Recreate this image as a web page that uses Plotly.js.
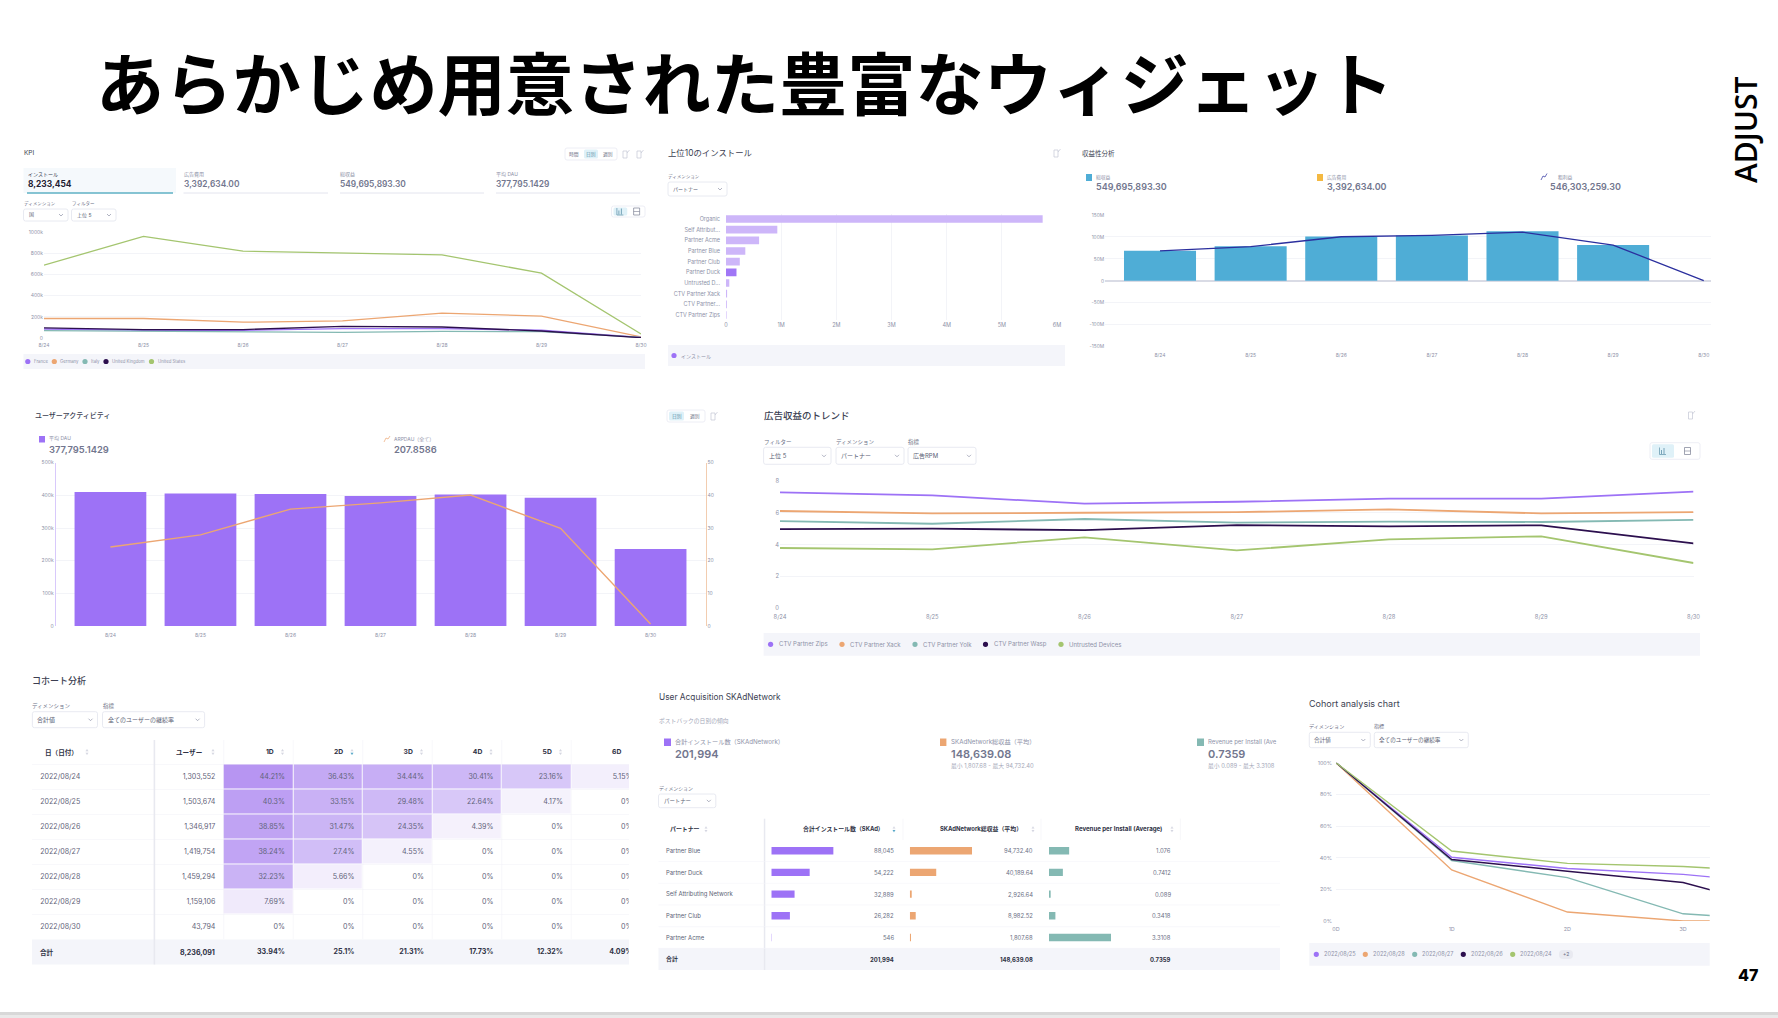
<!DOCTYPE html>
<html>
<head>
<meta charset="utf-8">
<script src="https://cdn.plot.ly/plotly-3.0.1.min.js"></script>
<style>
html, body { margin: 0; padding: 0; background: #fff; overflow: hidden; }
</style>
</head>
<body>
<div id="graphDiv" style="width:1778px;height:1018px"></div>
<script>
// shared
var days = ['8/24', '8/25', '8/26', '8/27', '8/28', '8/29', '8/30'];
var purple = '#9d72f6', orange = '#eca672', teal = '#84b9b3', dark = '#2c0f4e', green = '#a4c56f';

// KPI
var kpiNames = ['France', 'Germany', 'Italy', 'United Kingdom', 'United States'];
var kpiFrance = [85, 73, 73, 89, 89, 73, 6];
var kpiGermany = [184, 184, 149, 161, 234, 206, 10];
var kpiItaly = [70, 63, 60, 54, 63, 60, 6];
var kpiUK = [95, 79, 79, 110, 104, 66, 3];
var kpiUS = [687, 959, 820, 800, 785, 611, 38];
var kpiTicks = [0, 200, 400, 600, 800, 1000];
var kpiTickText = ['0', '200k', '400k', '600k', '800k', '1000k'];

// top 10 installs
var topPartners = ['Organic', 'Self Attribut...', 'Partner Acme', 'Partner Blue', 'Partner Club', 'Partner Duck', 'Untrusted D...', 'CTV Partner Xack', 'CTV Partner...', 'CTV Partner Zips'];
var topInstalls = [5.74, 0.93, 0.6, 0.35, 0.25, 0.19, 0.06, 0.02, 0.015, 0.01];
var topTicks = [0, 1, 2, 3, 4, 5, 6];
var topTickText = ['0', '1M', '2M', '3M', '4M', '5M', '6M'];

// revenue analysis
var revBars = [68.5, 79, 101, 103.5, 113, 81.5, 0.5];
var revLine = [68.5, 78, 100.5, 103.5, 111, 81.5, 0.3];
var revTicks = [-150, -100, -50, 0, 50, 100, 150];
var revTickText = ['-150M', '-100M', '-50M', '0', '50M', '100M', '150M'];

// user activity
var dauValues = [410, 406, 404, 398, 403, 393, 236];
var arpdauValues = [24.2, 27.9, 35.8, 37.7, 40.1, 29.9, 0.6];
var dauTicks = [0, 100, 200, 300, 400, 500];
var dauTickText = ['0', '100k', '200k', '300k', '400k', '500k'];
var arpdauTicks = [0, 10, 20, 30, 40, 50];

// ad revenue trend
var rpmNames = ['CTV Partner Zips', 'CTV Partner Xack', 'CTV Partner Yolk', 'CTV Partner Wasp', 'Untrusted Devices'];
var rpmZips = [7.27, 7.08, 6.56, 6.68, 6.87, 6.87, 7.31];
var rpmXack = [6.10, 5.95, 5.99, 6.03, 6.2, 5.95, 6.03];
var rpmYolk = [5.47, 5.3, 5.6, 5.37, 5.43, 5.41, 5.55];
var rpmWasp = [4.97, 4.99, 4.9, 5.22, 5.14, 5.2, 4.07];
var rpmUntrusted = [3.78, 3.7, 4.45, 3.63, 4.32, 4.51, 2.84];
var rpmTicks = [0, 2, 4, 6, 8];

// cohort table
var cohortDates = ['2022/08/24', '2022/08/25', '2022/08/26', '2022/08/27', '2022/08/28', '2022/08/29', '2022/08/30'];
var cohortUsers = ['1,303,552', '1,503,674', '1,346,917', '1,419,754', '1,459,294', '1,159,106', '43,794'];
var cohortDays = ['1D', '2D', '3D', '4D', '5D', '6D'];
var cohortRates = [
  [44.21, 36.43, 34.44, 30.41, 23.16, 5.15],
  [40.3, 33.15, 29.48, 22.64, 4.17, 0],
  [38.85, 31.47, 24.35, 4.39, 0, 0],
  [38.24, 27.4, 4.55, 0, 0, 0],
  [32.23, 5.66, 0, 0, 0, 0],
  [7.69, 0, 0, 0, 0, 0],
  [0, 0, 0, 0, 0, 0]
];
var cohortTotalUsers = '8,236,091';
var cohortTotals = ['33.94%', '25.1%', '21.31%', '17.73%', '12.32%', '4.09%'];

// SKAdNetwork table
var skPartners = ['Partner Blue', 'Partner Duck', 'Self Attributing Network', 'Partner Club', 'Partner Acme'];
var skInstalls = [88045, 54222, 32889, 26282, 546];
var skRevenue = [94732.40, 40189.64, 2926.64, 8982.52, 1807.68];
var skPerInstall = [1.076, 0.7412, 0.089, 0.3418, 3.3108];

// cohort chart
var retentionDays = [0, 1, 2, 3, 4];
var retentionTickText = ['0D', '1D', '2D', '3D', '4D'];
var retentionNames = ['2022/08/25', '2022/08/28', '2022/08/27', '2022/08/26', '2022/08/24'];
var retention25 = [100, 40.3, 33.15, 29.48, 22.64];
var retention28 = [100, 32.23, 5.66, 0, 0];
var retention27 = [100, 38.24, 27.4, 4.55, 0];
var retention26 = [100, 38.85, 31.47, 24.35, 4.39];
var retention24 = [100, 44.21, 36.43, 34.44, 30.41];
var retentionTicks = [0, 20, 40, 60, 80, 100];
var retentionTickLabels = ['0%', '20%', '40%', '60%', '80%', '100%'];

var W = 1778, H = 1018;
var font = "Inter, 'Noto Sans CJK JP', sans-serif";
var tickColor = '#8e92a8', gridColor = '#f3f4f8', bandColor = '#f4f5fa', valueColor = '#72768e';
var annotations = [], shapes = [], traces = [];

function domX(a, b) { return [a / W, b / W]; }
function domY(top, bottom) { return [1 - bottom / H, 1 - top / H]; }
function P(x, y) { return (x / W) + ' ' + (1 - y / H); }

function txt(x, y, text, size, color, opts) {
  opts = opts || {};
  // annotations keep about a pixel of padding on their left
  var left = !opts.anchor || opts.anchor == 'left';
  annotations.push({
    xref: 'paper', yref: 'paper', x: (left ? x - 1 : x) / W, y: 1 - y / H,
    text: text, showarrow: false, borderpad: 0,
    xanchor: opts.anchor || 'left', yanchor: 'middle',
    textangle: opts.angle || 0,
    font: {family: opts.family || font, size: size, color: color, weight: opts.weight || 400}
  });
}

function rect(x0, y0, x1, y1, fill, line) {
  shapes.push({
    type: 'rect', xref: 'paper', yref: 'paper', layer: 'below',
    x0: x0 / W, x1: x1 / W, y0: 1 - y0 / H, y1: 1 - y1 / H,
    fillcolor: fill, line: {width: line ? 0.7 : 0, color: line || fill}
  });
}

function seg(pts, color, width, layer, fill) {
  var d = 'M' + pts.map(function (p) { return P(p[0], p[1]); }).join(' L');
  if (fill) d += ' Z';
  shapes.push({
    type: 'path', xref: 'paper', yref: 'paper', layer: layer || 'above', path: d,
    fillcolor: fill || 'rgba(0,0,0,0)', line: {color: color, width: width}
  });
}

function roundBox(x0, y0, x1, y1, r, fill, line) {
  var d = 'M' + P(x0 + r, y0) + ' L' + P(x1 - r, y0) + ' Q' + P(x1, y0) + ' ' + P(x1, y0 + r) +
    ' L' + P(x1, y1 - r) + ' Q' + P(x1, y1) + ' ' + P(x1 - r, y1) +
    ' L' + P(x0 + r, y1) + ' Q' + P(x0, y1) + ' ' + P(x0, y1 - r) +
    ' L' + P(x0, y0 + r) + ' Q' + P(x0, y0) + ' ' + P(x0 + r, y0) + ' Z';
  shapes.push({
    type: 'path', xref: 'paper', yref: 'paper', layer: 'below', path: d,
    fillcolor: fill, line: {color: line || fill, width: line ? 0.8 : 0}
  });
}

function dot(x, y, r, color) {
  shapes.push({
    type: 'circle', xref: 'paper', yref: 'paper', layer: 'above',
    x0: (x - r) / W, x1: (x + r) / W, y0: 1 - (y - r) / H, y1: 1 - (y + r) / H,
    fillcolor: color, line: {width: 0}
  });
}

function dropdown(x0, x1, y0, y1, label, value, size) {
  txt(x0, y0 - 5.5, label, size - 0.5, '#6b6f85');
  roundBox(x0, y0, x1, y1, 2, '#ffffff', '#e2e4ee');
  txt(x0 + 5, (y0 + y1) / 2, value, size, '#5b5f75');
  var cx = x1 - 7, cy = (y0 + y1) / 2;
  seg([[cx - 2, cy - 1], [cx, cy + 1], [cx + 2, cy - 1]], '#8e92a8', 0.7);
}

function exportIcon(x, y) {
  seg([[x - 3, y - 3], [x + 1, y - 3], [x + 1, y + 4], [x - 3, y + 4], [x - 3, y - 3]], '#c3c6d4', 0.7);
  seg([[x + 1, y - 1], [x + 3.5, y - 4]], '#c3c6d4', 0.7);
}

function chartToggle(x0, x1, y0, y1) {
  roundBox(x0, y0, x1, y1, 2, '#ffffff', '#e8eaf2');
  var mid = (x0 + x1) / 2;
  roundBox(x0 + 2, y0 + 1.5, mid - 1, y1 - 1.5, 1.5, '#dff1f8');
  var c1 = (x0 + mid) / 2, c2 = (mid + x1) / 2, cy = (y0 + y1) / 2;
  seg([[c1 - 3, cy - 3.5], [c1 - 3, cy + 3.5], [c1 + 3.5, cy + 3.5]], '#5b8fa8', 0.7);
  seg([[c1 - 1, cy + 3], [c1 - 1, cy - 1]], '#5b8fa8', 0.8);
  seg([[c1 + 1.5, cy + 3], [c1 + 1.5, cy - 3]], '#5b8fa8', 0.8);
  seg([[c2 - 3, cy - 3.5], [c2 + 3, cy - 3.5], [c2 + 3, cy + 3.5], [c2 - 3, cy + 3.5], [c2 - 3, cy - 3.5]], '#7a7e92', 0.7);
  seg([[c2 - 3, cy], [c2 + 3, cy]], '#7a7e92', 0.6);
}

function sortIcon(x, y, active) {
  seg([[x - 1.4, y - 0.8], [x, y - 3], [x + 1.4, y - 0.8]], '#d5d7e2', 0.1, 'above', '#d5d7e2');
  var c = active ? '#58a8c8' : '#d5d7e2';
  seg([[x - 1.4, y + 0.8], [x, y + 3], [x + 1.4, y + 0.8]], c, 0.1, 'above', c);
}

function legendBand(x0, x1, y0, y1, items, colors, xs, size) {
  rect(x0, y0, x1, y1, bandColor);
  items.forEach(function (name, i) {
    dot(xs[i], (y0 + y1) / 2, 2.6, colors[i]);
    txt(xs[i] + size * 1.2 + 1, (y0 + y1) / 2, name, size, '#8e92a8');
  });
}

function axis(domain, extra) {
  var a = {
    domain: domain, showgrid: false, zeroline: false, showline: false, ticks: '',
    fixedrange: true, tickfont: {family: font, size: 5.5, color: tickColor}
  };
  for (var k in extra) a[k] = extra[k];
  return a;
}

function lineTrace(x, y, name, color, width, xa, ya) {
  return {x: x, y: y, name: name, type: 'scatter', mode: 'lines', line: {color: color, width: width}, xaxis: xa, yaxis: ya, showlegend: false, hoverinfo: 'skip'};
}

function textTrace(x, y, text, pos, size, color, xa, ya, weight) {
  return {x: x, y: y, text: text, type: 'scatter', mode: 'text', textposition: pos, textfont: {family: font, size: size, color: color, weight: weight || 400}, xaxis: xa, yaxis: ya, showlegend: false, hoverinfo: 'skip'};
}

// ---- slide furniture
txt(95.5, 80, 'あらかじめ用意された豊富なウィジェット', 68.3, '#000000', {family: "'Noto Sans CJK JP'", weight: 700});
txt(1745, 130, 'ADJUST', 30, '#000000', {family: "'Open Sans'", weight: 600, angle: -90, anchor: 'center'});
txt(1759, 975, '47', 16, '#000000', {family: "Inter", weight: 800, anchor: 'right'});
rect(0, 1012, W, 1015, '#d8d8d8');
rect(0, 1015, W, 1018, '#e9e9e9');

// ---- KPI panel
txt(23.5, 153, 'KPI', 6.5, '#3c3f52');
roundBox(565, 148, 617, 160, 2, '#ffffff', '#e8eaf2');
roundBox(584, 149.5, 598, 158.5, 1.5, '#dff1f8');
txt(574, 154, '時間', 4.8, '#6b6f85', {anchor: 'center'});
txt(591, 154, '日別', 4.8, '#5b8fa8', {anchor: 'center'});
txt(608, 154, '週別', 4.8, '#6b6f85', {anchor: 'center'});
exportIcon(626, 154);
exportIcon(640, 154);

rect(23.5, 168, 176, 193, '#f5f9fc');
seg([[27, 193], [173, 193]], '#5eb0c4', 1.3);
seg([[183.5, 193], [328, 193]], '#e3e4ee', 1);
seg([[340, 193], [484, 193]], '#e3e4ee', 1);
seg([[496, 193], [640, 193]], '#e3e4ee', 1);
txt(27.5, 174, 'インストール', 5, '#3c3f52');
txt(27.5, 184, '8,233,454', 8.4, '#1f2233', {weight: 700});
txt(183.5, 174, '広告費用', 5, '#8e92a8');
txt(183.5, 184, '3,392,634.00', 8.4, valueColor, {weight: 600});
txt(340, 174, '総収益', 5, '#8e92a8');
txt(340, 184, '549,695,893.30', 8.4, valueColor, {weight: 600});
txt(496, 174, '平均 DAU', 5, '#8e92a8');
txt(496, 184, '377,795.1429', 8.4, valueColor, {weight: 600});
dropdown(23.5, 68, 209, 221, 'ディメンション', '国', 5);
dropdown(71.5, 116, 209, 221, 'フィルター', '上位 5', 5);
chartToggle(611.5, 645, 206, 217);

var kpiX = domX(44, 641), kpiY = domY(232, 338);
var kpiSeries = [kpiFrance, kpiGermany, kpiItaly, kpiUK, kpiUS];
var kpiColors = [purple, orange, teal, dark, green];
[4, 1, 0, 2, 3].forEach(function (i) {
  traces.push(lineTrace(days, kpiSeries[i], kpiNames[i], kpiColors[i], 1.3, 'x', 'y'));
});
legendBand(23.5, 645, 354, 369, kpiNames, kpiColors, [27.8, 54.3, 85, 106, 151.5], 4.3);

// ---- top 10 installs
txt(668, 153, '上位10のインストール', 8.4, '#3c3f52');
exportIcon(1057, 153);
dropdown(668, 727, 182, 196, 'ディメンション', 'パートナー', 5);
var topColors = topPartners.map(function (p) { return p == 'Partner Duck' ? '#a076f6' : '#cdb6f9'; });
traces.push({
  type: 'bar', orientation: 'h', y: topPartners, x: topInstalls, name: 'インストール',
  marker: {color: topColors}, xaxis: 'x2', yaxis: 'y2', showlegend: false, hoverinfo: 'skip'
});
legendBand(668, 1065, 345, 366, ['インストール'], [purple], [674], 5);

// ---- revenue analysis
txt(1082, 153, '収益性分析', 6.5, '#3c3f52');
rect(1086, 174, 1092, 181, '#4fadd6');
txt(1096, 177, '総収益', 4.8, '#8e92a8');
txt(1096, 187, '549,695,893.30', 9, valueColor, {weight: 600});
rect(1317, 174, 1323, 181, '#f4b942');
txt(1327, 177, '広告費用', 4.8, '#8e92a8');
txt(1327, 187, '3,392,634.00', 9, valueColor, {weight: 600});
seg([[1541, 180], [1543, 176], [1545, 177], [1547, 173.5]], '#2b2f9e', 0.7);
txt(1558, 177, '粗利益', 4.8, '#8e92a8');
txt(1550, 187, '546,303,259.30', 9, valueColor, {weight: 600});
traces.push({
  type: 'bar', x: days, y: revBars, name: '総収益', width: 0.795,
  marker: {color: '#4fadd6'}, xaxis: 'x3', yaxis: 'y3', showlegend: false, hoverinfo: 'skip'
});
traces.push(lineTrace(days, revLine, '粗利益', '#2b2f9e', 1.3, 'x3', 'y3'));

// ---- user activity
txt(34.5, 415, 'ユーザーアクティビティ', 7, '#3c3f52', {weight: 500});
roundBox(667, 410, 705, 422, 2, '#ffffff', '#e8eaf2');
roundBox(669, 411.5, 684, 420.5, 1.5, '#dff1f8');
txt(676.5, 416, '日別', 4.8, '#5b8fa8', {anchor: 'center'});
txt(695, 416, '週別', 4.8, '#6b6f85', {anchor: 'center'});
exportIcon(714, 416);
rect(39, 436, 45, 442.5, purple);
txt(48.6, 439, '平均 DAU', 5, '#8e92a8');
txt(48.6, 450, '377,795.1429', 9.4, valueColor, {weight: 600});
seg([[384, 442], [386, 438], [388, 439], [390, 436]], orange, 0.7);
txt(394, 439, 'ARPDAU（全て）', 5, '#8e92a8');
txt(394, 450, '207.8586', 9.4, valueColor, {weight: 600});
traces.push({
  type: 'bar', x: days, y: dauValues, name: '平均 DAU', width: 0.797,
  marker: {color: purple}, xaxis: 'x4', yaxis: 'y4', showlegend: false, hoverinfo: 'skip'
});
traces.push(lineTrace(days, arpdauValues, 'ARPDAU（全て）', orange, 1.4, 'x4', 'y5'));

// ---- ad revenue trend
txt(763.6, 415, '広告収益のトレンド', 9.5, '#3c3f52', {weight: 500});
exportIcon(1691.5, 415);
dropdown(763.6, 831, 447.3, 464.3, 'フィルター', '上位 5', 6);
dropdown(836, 904, 447.3, 464.3, 'ディメンション', 'パートナー', 6);
dropdown(908, 976, 447.3, 464.3, '指標', '広告RPM', 6);
chartToggle(1650, 1700, 442.7, 459.3);
var rpmSeries = [rpmZips, rpmXack, rpmYolk, rpmWasp, rpmUntrusted];
var rpmColors = [purple, orange, teal, dark, green];
rpmSeries.forEach(function (s, i) {
  traces.push(lineTrace(days, s, rpmNames[i], rpmColors[i], 1.8, 'x5', 'y6'));
});
legendBand(763.6, 1700, 633, 655.7, rpmNames, rpmColors, [770.6, 842, 915, 985.5, 1061], 6);

// ---- cohort table
txt(32.4, 680, 'コホート分析', 9, '#3c3f52', {weight: 500});
dropdown(32.4, 97.5, 711.7, 727.7, 'ディメンション', '合計値', 6);
dropdown(102.5, 204.6, 711.7, 727.7, '指標', '全てのユーザーの継続率', 6);
rect(32, 939.5, 629, 964.5, bandColor);
cohortDates.forEach(function (d, i) {
  seg([[32, 764.5 + 25 * i], [629, 764.5 + 25 * i]], gridColor, 0.6, 'below');
});
seg([[223.7, 740], [223.7, 939]], gridColor, 0.6, 'below');
[1, 2, 3, 4, 5].forEach(function (i) {
  seg([[223.7 + 69.5 * i, 740], [223.7 + 69.5 * i, 939]], gridColor, 0.6, 'below');
});
rect(153.6, 740, 155.2, 964.5, '#e8e9f0');

var colIdx = cohortDays.map(function (d, i) { return i; });
var rowIdx = cohortDates.map(function (d, i) { return i; });
traces.push({
  type: 'heatmap', x: colIdx, y: rowIdx, z: cohortRates, zmin: 0, zmax: 44.21,
  xgap: 1, ygap: 1, showscale: false, hoverinfo: 'skip', xaxis: 'x6', yaxis: 'y7',
  colorscale: [[0, 'rgba(255,255,255,0)'], [0.08, '#f6f3fc'], [0.5, '#d9c9f8'], [0.75, '#c9b1f5'], [1, '#b795f2']]
});
var rateX = [], rateY = [], rateT = [];
cohortRates.forEach(function (row, r) {
  row.forEach(function (v, c) {
    rateX.push(c + 0.38); rateY.push(r); rateT.push(v + '%');
  });
});
traces.push(textTrace(rateX, rateY, rateT, 'middle left', 7.1, '#5f6379', 'x6', 'y7'));
var dateCol = rowIdx.map(function () { return -3.14; });
var userCol = rowIdx.map(function () { return -0.62; });
traces.push(textTrace(dateCol, rowIdx, cohortDates, 'middle right', 7.1, '#5f6379', 'x6', 'y7'));
traces.push(textTrace(userCol, rowIdx, cohortUsers, 'middle left', 7.1, '#5f6379', 'x6', 'y7'));
// header + total rows sit one step above / below the body rows
traces.push(textTrace(colIdx.map(function (i) { return i + 0.22; }), colIdx.map(function () { return -1; }), cohortDays, 'middle left', 6.8, '#2f3245', 'x6', 'y7', 700));
traces.push(textTrace(colIdx.map(function (i) { return i + 0.38; }), colIdx.map(function () { return 7; }), cohortTotals, 'middle left', 7.1, '#2f3245', 'x6', 'y7', 700));
txt(45, 752, '日（日付）', 6.6, '#2f3245', {weight: 700});
txt(203, 752, 'ユーザー', 6.6, '#2f3245', {weight: 700, anchor: 'right'});
txt(40, 952, '合計', 6.6, '#2f3245', {weight: 700});
txt(215.5, 952, cohortTotalUsers, 7.1, '#2f3245', {weight: 700, anchor: 'right'});
sortIcon(87, 752);
sortIcon(213, 752);
colIdx.forEach(function (i) {
  if (i < 5) sortIcon(282.5 + 69.5 * i, 752, i == 1);
});

// ---- SKAdNetwork table
txt(658.5, 697, 'User Acquisition SKAdNetwork', 8.3, '#3c3f52');
txt(658.5, 721, 'ポストバックの日別の傾向', 5.8, '#a4a7b8');
rect(664, 738.5, 671, 746, purple);
txt(674.5, 742, '合計インストール数（SKAdNetwork）', 6.2, '#8e92a8');
txt(674.5, 754, '201,994', 11, valueColor, {weight: 600});
rect(940, 738.5, 946.4, 746, orange);
txt(950.6, 742, 'SKAdNetwork総収益（平均）', 6.2, '#8e92a8');
txt(950.6, 754, '148,639.08', 11, valueColor, {weight: 600});
txt(950.6, 766.3, '最小 1,807.68 - 最大 94,732.40', 5.8, '#a4a7b8');
rect(1197, 738.5, 1204, 746, teal);
txt(1207.8, 742, 'Revenue per Install (Ave', 6, '#8e92a8');
txt(1207.8, 754, '0.7359', 11, valueColor, {weight: 600});
txt(1207.8, 766.3, '最小 0.089 - 最大 3.3108', 5.8, '#a4a7b8');
dropdown(658.5, 715.8, 794, 807.7, 'ディメンション', 'パートナー', 5.4);

rect(658.5, 948.3, 1280, 970, bandColor);
rect(763.8, 818.7, 765.3, 970, '#e8e9f0');
[903, 1041, 1180.4].forEach(function (x) { seg([[x, 818.7], [x, 840]], gridColor, 0.7, 'below'); });
skPartners.forEach(function (p, i) {
  seg([[658.5, 861.6 + 21.7 * i], [1280, 861.6 + 21.7 * i]], gridColor, 0.6, 'below');
  txt(665.7, 850.7 + 21.7 * i, p, 5.9, '#5b5f75');
  txt(895, 850.7 + 21.7 * i, skInstalls[i].toLocaleString('en-US'), 5.9, '#6b6f85', {anchor: 'right'});
  txt(1034, 850.7 + 21.7 * i, skRevenue[i].toLocaleString('en-US', {minimumFractionDigits: 2, maximumFractionDigits: 2}), 5.9, '#6b6f85', {anchor: 'right'});
  txt(1172.4, 850.7 + 21.7 * i, String(skPerInstall[i]), 5.9, '#6b6f85', {anchor: 'right'});
});
[[skInstalls, purple, 'x7'], [skRevenue, orange, 'x8'], [skPerInstall, teal, 'x9']].forEach(function (c) {
  traces.push({
    type: 'bar', orientation: 'h', y: skPartners, x: c[0], width: 0.34,
    marker: {color: c[1]}, xaxis: c[2], yaxis: 'y8', showlegend: false, hoverinfo: 'skip'
  });
});
txt(670, 829.3, 'パートナー', 5.9, '#2f3245', {weight: 700});
txt(884.5, 829.3, '合計インストール数（SKAd）', 5.9, '#2f3245', {weight: 700, anchor: 'right'});
txt(1023, 829.3, 'SKAdNetwork総収益（平均）', 5.9, '#2f3245', {weight: 700, anchor: 'right'});
txt(1162.7, 829.3, 'Revenue per Install (Average)', 6.1, '#2f3245', {weight: 700, anchor: 'right'});
sortIcon(706, 829.3);
sortIcon(894, 829.3, true);
sortIcon(1033, 829.3);
sortIcon(1172, 829.3);
txt(665.7, 959.3, '合計', 5.9, '#2f3245', {weight: 700});
txt(895, 959.3, '201,994', 5.9, '#2f3245', {weight: 700, anchor: 'right'});
txt(1034, 959.3, '148,639.08', 5.9, '#2f3245', {weight: 700, anchor: 'right'});
txt(1172.4, 959.3, '0.7359', 5.9, '#2f3245', {weight: 700, anchor: 'right'});

// ---- cohort chart
txt(1309.3, 703.5, 'Cohort analysis chart', 9, '#3c3f52');
dropdown(1309.3, 1370.3, 732.3, 747.7, 'ディメンション', '合計値', 5.6);
dropdown(1374.3, 1468.3, 732.3, 747.7, '指標', '全てのユーザーの継続率', 5.6);
var retSeries = [retention25, retention28, retention27, retention26, retention24];
var retColors = [purple, orange, teal, dark, green];
retSeries.forEach(function (s, i) {
  traces.push(lineTrace(retentionDays, s, retentionNames[i], retColors[i], 1.4, 'x10', 'y9'));
});
legendBand(1309.3, 1709.7, 943, 965.7, retentionNames, retColors, [1316.3, 1365.3, 1414.7, 1463.3, 1512.7], 5.6);
roundBox(1559, 950, 1573, 959, 4, '#e9eaf1');
txt(1566, 954.4, '+2', 5, '#6b6f85', {anchor: 'center'});

var layout = {
  width: W, height: H, margin: {l: 0, r: 0, t: 0, b: 0, pad: 0},
  paper_bgcolor: '#ffffff', plot_bgcolor: 'rgba(0,0,0,0)',
  showlegend: false, bargap: 0.28, barmode: 'overlay',
  annotations: annotations, shapes: shapes,

  xaxis: axis(kpiX, {type: 'category', range: [0, 6], anchor: 'y', ticklabelstandoff: 3, tickfont: {family: font, size: 5, color: tickColor}}),
  yaxis: axis(kpiY, {range: [0, 1000], anchor: 'x', showgrid: true, gridcolor: gridColor, tickvals: kpiTicks, ticktext: kpiTickText, tickfont: {family: font, size: 5, color: tickColor}}),

  xaxis2: axis(domX(726, 1057), {range: [0, 6], anchor: 'y2', side: 'bottom', showgrid: true, gridcolor: gridColor, tickvals: topTicks, ticktext: topTickText}),
  yaxis2: axis(domY(213.7, 320.3), {type: 'category', range: [9.5, -0.5], anchor: 'x2', ticklabelstandoff: 5}),

  xaxis3: axis(domX(1105, 1711), {type: 'category', range: [-0.607, 6.08], anchor: 'y3', ticklabelstandoff: 4, tickfont: {family: font, size: 5, color: tickColor}}),
  yaxis3: axis(domY(215, 346.7), {range: [-150, 150], anchor: 'x3', showgrid: true, gridcolor: gridColor, zeroline: true, zerolinecolor: '#d9dbe5', zerolinewidth: 1.5, tickvals: revTicks, ticktext: revTickText, tickfont: {family: font, size: 4.8, color: tickColor}}),

  xaxis4: axis(domX(55.7, 705.5), {type: 'category', range: [-0.608, 6.61], anchor: 'y4', ticklabelstandoff: 5, tickfont: {family: font, size: 5, color: tickColor}}),
  yaxis4: axis(domY(462.7, 626), {range: [0, 500], anchor: 'x4', showgrid: true, gridcolor: gridColor, showline: true, linecolor: '#d8c9fb', linewidth: 1, tickvals: dauTicks, ticktext: dauTickText, tickfont: {family: font, size: 5, color: tickColor}}),
  yaxis5: axis(domY(462.7, 626), {range: [0, 50], overlaying: 'y4', anchor: 'x4', side: 'right', showline: true, linecolor: '#f2cdb0', linewidth: 1, tickvals: arpdauTicks, tickfont: {family: font, size: 5, color: tickColor}}),

  xaxis5: axis(domX(780, 1693.5), {type: 'category', range: [0, 6], anchor: 'y6', ticklabelstandoff: 4, tickfont: {family: font, size: 5.8, color: tickColor}}),
  yaxis6: axis(domY(480.7, 608.3), {range: [0, 8], anchor: 'x5', showgrid: true, gridcolor: gridColor, tickvals: rpmTicks, tickfont: {family: font, size: 5.8, color: tickColor}}),

  xaxis6: axis(domX(32, 629), {range: [-3.258, 5.33], anchor: 'y7', showticklabels: false}),
  yaxis7: axis(domY(739.5, 964.5), {range: [7.5, -1.5], anchor: 'x6', showticklabels: false}),

  xaxis7: axis(domX(771.3, 833.6), {range: [0, 88045], anchor: 'y8', visible: false}),
  xaxis8: axis(domX(909.8, 972.1), {range: [0, 94732.4], anchor: 'y8', visible: false}),
  xaxis9: axis(domX(1049, 1111), {range: [0, 3.3108], anchor: 'y8', visible: false}),
  yaxis8: axis(domY(839.85, 948.35), {type: 'category', range: [4.5, -0.5], anchor: 'x7', visible: false}),

  xaxis10: axis(domX(1336, 1709.7), {range: [0, 3.23], anchor: 'y9', tickvals: retentionDays, ticktext: retentionTickText, ticklabelstandoff: 4, tickfont: {family: font, size: 5.4, color: tickColor}}),
  yaxis9: axis(domY(762.7, 921), {range: [0, 100], anchor: 'x10', showgrid: true, gridcolor: gridColor, tickvals: retentionTicks, ticktext: retentionTickLabels, ticklabelstandoff: 3, tickfont: {family: font, size: 5.4, color: tickColor}})
};

Plotly.newPlot(graphDiv, traces, layout, {staticPlot: true, displayModeBar: false});
</script>
</body>
</html>
